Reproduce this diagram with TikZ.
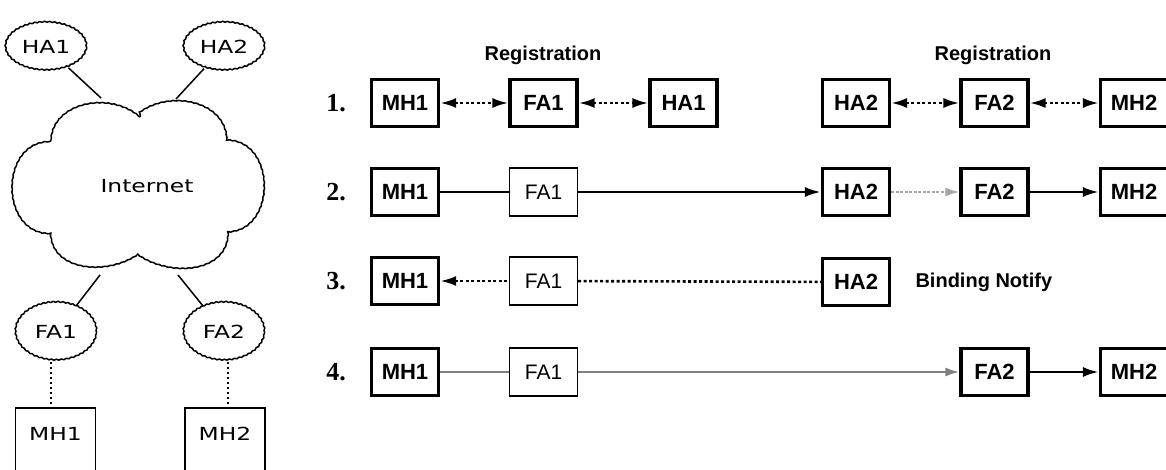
\documentclass[tikz,border=0pt]{standalone}
\usepackage{fontspec}
\usetikzlibrary{shapes.geometric,decorations.pathmorphing,arrows.meta}
\setmainfont{Liberation Sans}
\newfontfamily\netfont[FakeStretch=1.3]{DejaVu Sans}
\newfontfamily\numfont{Liberation Serif}

\begin{document}
\begin{tikzpicture}[x=1pt,y=-1pt,
  wobbly/.style={decorate,decoration={snake,amplitude=0.5pt,segment length=5pt}},
  agent/.style={ellipse,draw,line width=1.5pt,wobbly,inner sep=0pt,
    minimum width=81pt,minimum height=48pt,font=\netfont\fontsize{18}{20}\selectfont},
  hostbox/.style={draw,line width=1.5pt,minimum width=80pt,minimum height=80pt,anchor=north},
  nettext/.style={font=\netfont\fontsize{18}{20}\selectfont},
  wire/.style={line width=1.5pt},
  airlink/.style={line width=1.6pt,dash pattern=on 2.5pt off 2.5pt},
  box/.style={draw,line width=3.2pt,minimum width=67pt,minimum height=47pt,inner sep=0pt,
    font=\bfseries\fontsize{22}{22}\selectfont},
  faint/.style={draw,line width=1.4pt,minimum width=68pt,minimum height=48pt,inner sep=0pt,
    font=\fontsize{21}{21}\selectfont},
  stepnum/.style={font=\numfont\bfseries\fontsize{26}{26}\selectfont},
  note/.style={font=\bfseries\fontsize{20}{20}\selectfont},
  link/.style={line width=2.6pt},
  dots/.style={line width=2.6pt,dash pattern=on 3pt off 2.5pt},
  greylink/.style={line width=2.2pt,draw=black!50},
  >={Latex[length=16pt,width=10pt]}
]
\useasboundingbox (0,0) rectangle (1166,470);
\clip (0,0) rectangle (1166,470);

% ---------- network view ----------
\node[agent] (ha1) at (46,47) {HA1};
\node[agent] (ha2) at (224,47) {HA2};
\node[agent,minimum height=58pt] (fa1l) at (56,332) {FA1};
\node[agent,minimum height=58pt] (fa2l) at (224,332) {FA2};

% cloud outline
\coordinate (ca) at (140,117);
\coordinate (cb) at (52,143);
\coordinate (cc) at (52,235);
\coordinate (cd) at (140,257);
\coordinate (ce) at (230,235);
\coordinate (cf) at (230,143);
\draw[line width=1.5pt,decorate,decoration={snake,amplitude=0.35pt,segment length=6pt}]
  (ca) to[out=140,in=90,looseness=1.1] (cb)
       to[out=180,in=180,looseness=1.4] (cc)
       to[out=-90,in=-145,looseness=1.1] (cd)
       to[out=-35,in=-90,looseness=1.1] (ce)
       to[out=0,in=0,looseness=1.4] (cf)
       to[out=90,in=40,looseness=1.1] (ca);
\node[nettext] (inet) at (147,186) {Internet};

\coordinate (ctl) at (101,98);
\coordinate (ctr) at (176,99);
\coordinate (cbl) at (100,275);
\coordinate (cbr) at (178,275);
\draw[wire] (ha1) -- (ctl);
\draw[wire] (ha2) -- (ctr);
\draw[wire] (fa1l) -- (cbl);
\draw[wire] (fa2l) -- (cbr);

\node[hostbox] (mh1l) at (55.5,407) {};
\node[hostbox] (mh2l) at (225,407) {};
\node[nettext] (mh1lt) at (55.5,434) {MH1};
\node[nettext] (mh2lt) at (225,434) {MH2};
\draw[airlink] ([xshift=-5pt]fa1l.south) -- ([xshift=-4.5pt]mh1l.north);
\draw[airlink] ([xshift=4pt]fa2l.south) -- ([xshift=3pt]mh2l.north);

% ---------- message sequences ----------
\node[stepnum] (n1) at (336,103) {1.};
\node[stepnum] (n2) at (336,192) {2.};
\node[stepnum] (n3) at (336,281) {3.};
\node[stepnum] (n4) at (336,372) {4.};

\node[note] (reg1) at (543,55) {Registration};
\node[note] (reg2) at (993,55) {Registration};

% step 1
\node[box] (m1) at (405,103) {MH1};
\node[box] (f1) at (543.5,103) {FA1};
\node[box] (h1) at (683.5,103) {HA1};
\node[box] (h2a) at (856,103) {HA2};
\node[box] (f2a) at (994.5,103) {FA2};
\node[box] (m2a) at (1134,103) {MH2};
\draw[dots,<->] (m1) -- (f1);
\draw[dots,<->] (f1) -- (h1);
\draw[dots,<->] (h2a) -- (f2a);
\draw[dots,<->] (f2a) -- (m2a);

% step 2
\node[box] (m1b) at (405,192) {MH1};
\node[faint] (f1b) at (543.5,192) {FA1};
\node[box] (h2b) at (856,192) {HA2};
\node[box] (f2b) at (994.5,192) {FA2};
\node[box] (m2b) at (1134,192) {MH2};
\draw[link] (m1b) -- (f1b);
\draw[link,->] (f1b) -- (h2b);
\draw[line width=2.2pt,draw=black!35,dash pattern=on 3pt off 1.5pt,
      -{Latex[length=14pt,width=9pt,fill=black!35]}] (h2b) -- (f2b);
\draw[link,->] (f2b) -- (m2b);

% step 3
\node[box] (m1c) at (405,281) {MH1};
\node[faint] (f1c) at (543.5,281) {FA1};
\node[box] (h2c) at (856,282) {HA2};
\node[note,anchor=west] (bind) at (912,282) {Binding Notify};
\draw[dots,<-] (m1c) -- (f1c);
\draw[dots] (f1c) -- (h2c);

% step 4
\node[box] (m1d) at (405,372) {MH1};
\node[faint] (f1d) at (543.5,372) {FA1};
\node[box] (f2d) at (994.5,372) {FA2};
\node[box] (m2d) at (1134,372) {MH2};
\draw[greylink] (m1d) -- (f1d);
\draw[greylink,-{Latex[length=14pt,width=9pt,fill=black!50]}] (f1d) -- (f2d);
\draw[link,->] (f2d) -- (m2d);
\end{tikzpicture}
\end{document}
